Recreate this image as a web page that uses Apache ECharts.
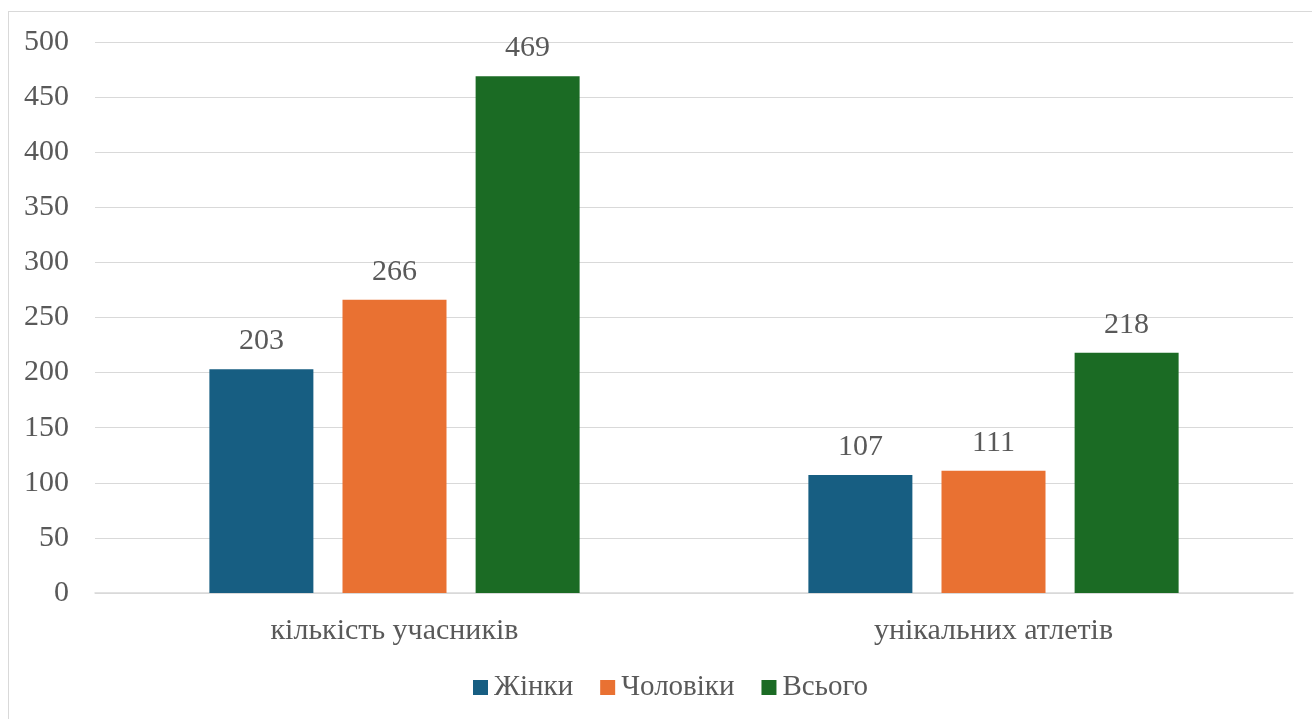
<!DOCTYPE html>
<html><head><meta charset="utf-8">
<script src="https://cdn.jsdelivr.net/npm/echarts@6/dist/echarts.min.js"></script>
<style>
html,body{margin:0;padding:0;background:#fff;overflow:hidden}
#frame{position:absolute;left:8px;top:11px;width:1320px;height:720px;border:1px solid #d9d9d9;box-sizing:border-box}
#c{position:absolute;left:0;top:0;width:1312px;height:719px}
</style></head>
<body><div id="frame"></div><div id="c"></div>
<script>
var categories = ['кількість учасників', 'унікальних атлетів'];
var seriesNames = ['Жінки', 'Чоловіки', 'Всього'];
var women = [203, 107];
var men = [266, 111];
var total = [469, 218];
var colors = ['#175e82', '#e97132', '#1b6b24'];
var font = '"Liberation Serif", "Times New Roman", serif';
var txt = '#595959';
var chart = echarts.init(document.getElementById('c'));
var data = [women, men, total];
chart.setOption({
  animation: false,
  textStyle: {fontFamily: font},
  grid: {left: 95, right: 19, top: 42, bottom: 126, containLabel: false},
  legend: {
    bottom: 12, left: 468, itemWidth: 15, itemHeight: 15, itemGap: 27,
    icon: 'rect',
    textStyle: {fontFamily: font, fontSize: 29, color: txt, padding: [0,0,0,1]},
    data: seriesNames
  },
  xAxis: {
    type: 'category', data: categories,
    axisLine: {lineStyle: {color: '#d9d9d9', width: 1.5}},
    axisTick: {show: false},
    axisLabel: {fontFamily: font, fontSize: 30, color: txt, margin: 23}
  },
  yAxis: {
    type: 'value', min: 0, max: 500, interval: 50,
    axisLine: {show: false}, axisTick: {show: false},
    splitLine: {lineStyle: {color: '#d9d9d9', width: 1.2}},
    axisLabel: {fontFamily: font, fontSize: 30, color: txt, margin: 26}
  },
  series: seriesNames.map(function(n, i){
    return {
      name: n, type: 'bar', data: data[i], barWidth: 104, barGap: '28%',
      itemStyle: {color: colors[i]},
      label: {show: true, position: 'top', distance: 13, fontFamily: font, fontSize: 30, color: txt}
    };
  })
});
</script></body></html>
